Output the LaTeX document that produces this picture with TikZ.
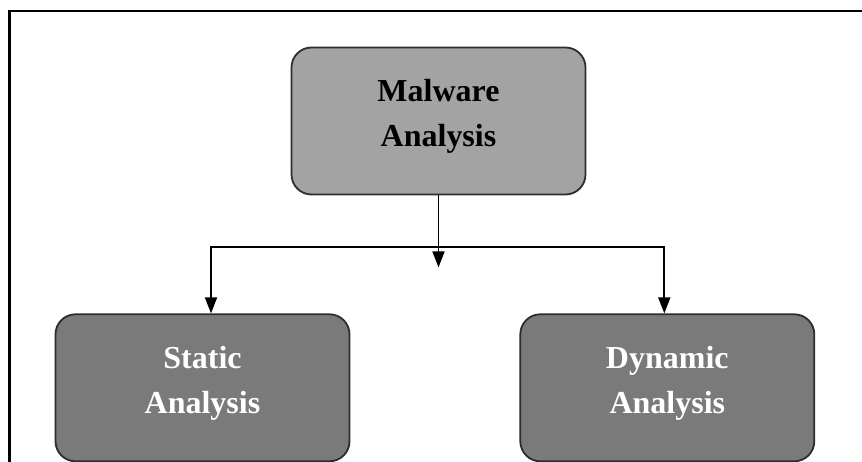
\documentclass[tikz,border=0pt]{standalone}
\usepackage{fontspec}
\setmainfont{Liberation Serif}
\usepackage{tikz}
\usetikzlibrary{positioning}
\usetikzlibrary{arrows.meta}

\definecolor{topgray}{RGB}{163,163,163}
\definecolor{subgray}{RGB}{122,122,122}
\definecolor{edgegray}{RGB}{45,45,45}

\begin{document}
\begin{tikzpicture}[x=1pt, y=1pt,
        box/.style={rectangle, rounded corners=20pt, draw=edgegray, line width=1.8pt, minimum width=294pt, minimum height=147pt, align=center, text depth=16pt, font=\fontsize{32}{45}\selectfont\bfseries},
        link/.style={line width=1.8pt, -{Triangle[length=16pt, width=12pt]}}]
        \useasboundingbox (0,0) rectangle (862,-462);
        \draw[line width=2.2pt] (9.5,-462) -- (9.5,-11) -- (862,-11);

        \node (malware) [box, fill=topgray] at (438.5,-121) {Malware\\Analysis};

        \node (static) [box, fill=subgray, text=white, below=118pt of malware, xshift=-236pt] {Static\\Analysis};
        \node (dynamic) [box, fill=subgray, text=white, right=169pt of static] {Dynamic\\Analysis};

        \coordinate (split) at ([yshift=-52pt]malware.south);
        \coordinate (mid) at ([yshift=-72pt]malware.south);

        \draw[link] (malware.south) -- (mid);
        \draw[link] (split) -| ([xshift=8.5pt]static.north);
        \draw[link] (split) -| ([xshift=-3pt]dynamic.north);
    \end{tikzpicture}
\end{document}
